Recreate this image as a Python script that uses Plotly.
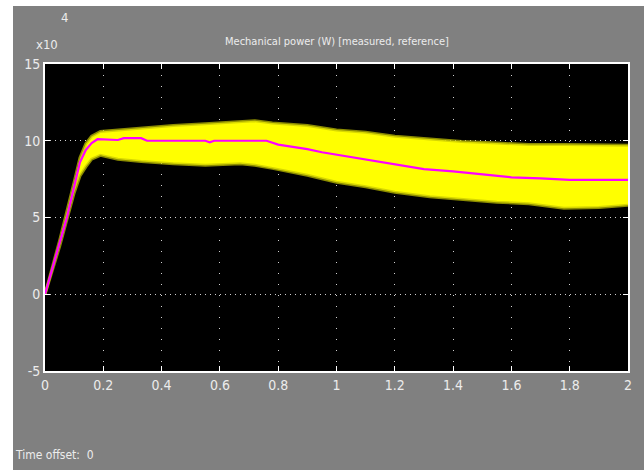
import plotly.graph_objects as go

# ---- data (values in units of 1e4 W) ----
t_ref = [0, 0.05, 0.075, 0.10, 0.12, 0.14, 0.16, 0.18, 0.22, 0.25, 0.27, 0.33, 0.35, 0.55,
         0.565, 0.58, 0.76, 0.80, 0.85, 0.90, 0.95, 1.0, 1.1, 1.2, 1.3, 1.4, 1.5, 1.6,
         1.7, 1.8, 2.0]
p_ref = [0, 3.3, 5.0, 7.0, 8.6, 9.4, 9.85, 10.1, 10.05, 10.05, 10.17, 10.17, 10.0, 10.0,
         9.9, 10.0, 10.0, 9.75, 9.6, 9.45, 9.25, 9.1, 8.8, 8.45, 8.15, 8.0, 7.8, 7.62,
         7.55, 7.45, 7.45]

t_env = [0, 0.05, 0.10, 0.12, 0.14, 0.16, 0.19, 0.25, 0.33, 0.44, 0.55, 0.67, 0.72,
         0.78, 0.90, 1.0, 1.1, 1.2, 1.32, 1.43, 1.55, 1.66, 1.78, 1.9, 2.0]
p_upper = [0, 3.5, 7.3, 8.9, 9.8, 10.3, 10.6, 10.7, 10.85, 11.0, 11.1, 11.25, 11.3,
           11.15, 11.0, 10.7, 10.55, 10.3, 10.1, 9.95, 9.85, 9.75, 9.75, 9.7, 9.7]
p_lower = [0, 3.1, 6.6, 7.7, 8.3, 8.8, 9.05, 8.8, 8.65, 8.5, 8.4, 8.5, 8.4,
           8.2, 7.75, 7.3, 7.0, 6.65, 6.35, 6.2, 6.0, 5.9, 5.6, 5.65, 5.8]

x_ticks = [0, 0.2, 0.4, 0.6, 0.8, 1.0, 1.2, 1.4, 1.6, 1.8, 2.0]
x_ticklabels = ["0", "0.2", "0.4", "0.6", "0.8", "1", "1.2", "1.4", "1.6", "1.8", "2"]
y_ticks = [-5, 0, 5, 10, 15]
y_ticklabels = ["-5", "0", "5", "10", "15"]

title_text = "Mechanical power (W) [measured, reference]"

FONT = "Liberation Sans Narrow, DejaVu Sans Condensed, Arial Narrow, sans-serif"
TXT = "#ececec"

fig = go.Figure()
# measured band (yellow)
fig.add_trace(go.Scatter(x=t_env, y=p_lower, mode="lines",
                         line=dict(width=0, color="#ffff00"), showlegend=False,
                         hoverinfo="skip"))
fig.add_trace(go.Scatter(x=t_env, y=p_upper, mode="lines", fill="tonexty",
                         fillcolor="#ffff00", line=dict(width=0, color="#ffff00"),
                         showlegend=False, hoverinfo="skip"))
# fuzzy edges
for arr in (p_upper, p_lower):
    fig.add_trace(go.Scatter(x=t_env, y=arr, mode="lines",
                             line=dict(width=3, color="rgba(200,200,0,0.7)"),
                             showlegend=False, hoverinfo="skip"))
# reference (magenta)
fig.add_trace(go.Scatter(x=t_ref, y=p_ref, mode="lines",
                         line=dict(width=2.2, color="#ff00ff"), showlegend=False))

L, R, T, B = 45, 16, 64, 99
W, H = 644, 470
pw, ph = W - L - R, H - T - B

def px(xp):
    return (xp - L) / pw

def py(yp):
    return (H - B - yp) / ph

fig.update_layout(
    width=W, height=H,
    margin=dict(l=L, r=R, t=T, b=B, pad=0),
    paper_bgcolor="#808080",
    plot_bgcolor="#000000",
    font=dict(family=FONT, color=TXT, size=14),
    xaxis=dict(range=[0, 2], tickvals=x_ticks, ticktext=x_ticklabels,
               showgrid=True, gridcolor="#d0d0d0", gridwidth=1, griddash="1px,10px",
               zeroline=False, showline=True, linecolor="#ffffff", linewidth=2,
               mirror="allticks", ticks="inside", ticklen=5, tickcolor="#ffffff",
               tickfont=dict(family=FONT, size=14, color=TXT)),
    yaxis=dict(range=[-5, 15], tickvals=y_ticks, ticktext=y_ticklabels,
               showgrid=True, gridcolor="#d0d0d0", gridwidth=1, griddash="1px,4px",
               zeroline=False, showline=True, linecolor="#ffffff", linewidth=2,
               mirror="allticks", ticks="inside", ticklen=5, tickcolor="#ffffff",
               tickfont=dict(family=FONT, size=14, color=TXT)),
    shapes=[
        dict(type="rect", xref="paper", yref="paper", x0=px(0), x1=px(13),
             y0=py(H), y1=py(0), fillcolor="#ffffff", line=dict(width=0)),
        dict(type="rect", xref="paper", yref="paper", x0=px(0), x1=px(W),
             y0=py(6), y1=py(0), fillcolor="#ffffff", line=dict(width=0)),
    ],
    annotations=[
        dict(text=title_text, xref="paper", yref="paper", x=0.5, y=py(42),
             showarrow=False, font=dict(family=FONT, size=11, color=TXT),
             xanchor="center", yanchor="middle"),
        dict(text="x10", xref="paper", yref="paper", x=px(60), y=py(45),
             showarrow=False, font=dict(family=FONT, size=13, color=TXT),
             xanchor="right", yanchor="middle"),
        dict(text="4", xref="paper", yref="paper", x=px(64), y=py(18),
             showarrow=False, font=dict(family=FONT, size=13, color=TXT),
             xanchor="center", yanchor="middle"),
        dict(text="Time offset:  0", xref="paper", yref="paper", x=px(13), y=py(455),
             showarrow=False, font=dict(family=FONT, size=12, color=TXT),
             xanchor="left", yanchor="middle"),
    ],
)

fig.write_html("out.html", config={"displayModeBar": False},
               post_script="document.body.style.margin='0';document.body.style.padding='0';")
